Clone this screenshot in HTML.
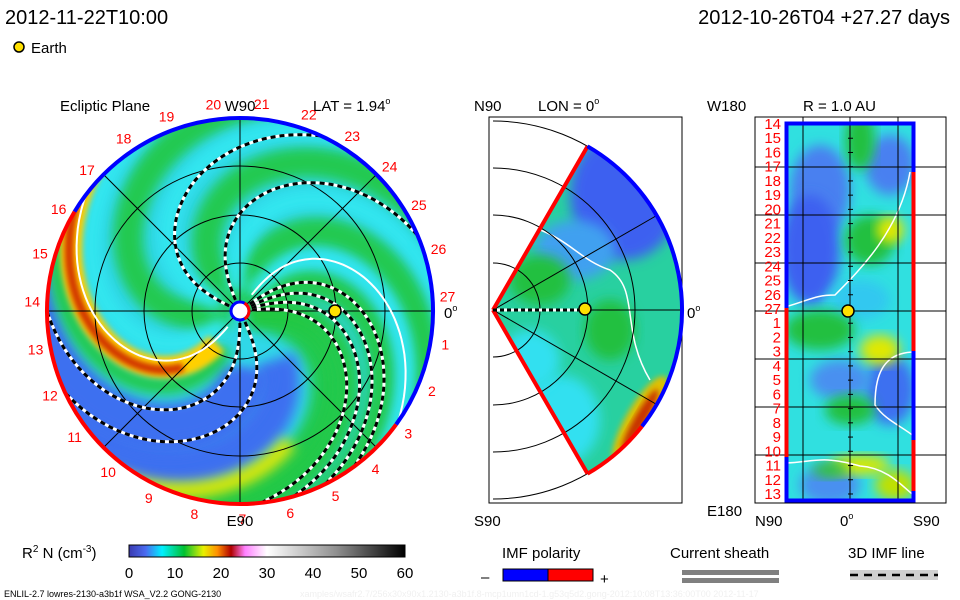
<!DOCTYPE html>
<html><head><meta charset="utf-8">
<style>
body{margin:0;background:#fff;width:960px;height:600px;overflow:hidden;font-family:"Liberation Sans",sans-serif}
svg{position:absolute;left:0;top:0}
</style></head>
<body>
<svg id="chart" width="960" height="600" viewBox="0 0 960 600">
<defs>
<filter id="blur" x="-20%" y="-20%" width="140%" height="140%"><feGaussianBlur stdDeviation="6"/></filter>
<filter id="blur2" x="-20%" y="-20%" width="140%" height="140%"><feGaussianBlur stdDeviation="3"/></filter>
<clipPath id="clipL"><circle cx="240" cy="311" r="193"/></clipPath>
<clipPath id="clipM"><path id="wedgePath" d=""/></clipPath>
<clipPath id="clipR"><rect x="785" y="122" width="130" height="379"/></clipPath>
<linearGradient id="cbar" x1="0" x2="1" y1="0" y2="0">
<stop offset="0" stop-color="#3a3ab0"/><stop offset="0.06" stop-color="#4a6af0"/><stop offset="0.12" stop-color="#00f0ff"/>
<stop offset="0.2" stop-color="#00c030"/><stop offset="0.27" stop-color="#e8f000"/><stop offset="0.32" stop-color="#ff9000"/>
<stop offset="0.37" stop-color="#b00000"/><stop offset="0.42" stop-color="#ff80ff"/><stop offset="0.5" stop-color="#ffffff"/>
<stop offset="0.75" stop-color="#909090"/><stop offset="1" stop-color="#000000"/>
</linearGradient>
</defs>
<g font-size="20" fill="#000">
<text x="5" y="24">2012-11-22T10:00</text>
<text x="950" y="24" text-anchor="end">2012-10-26T04 +27.27 days</text>
</g>
<g>
<circle cx="19" cy="47" r="5" fill="#ffe000" stroke="#000" stroke-width="1.5"/>
<text x="31" y="53" font-size="15">Earth</text>
</g>
<g id="left"></g>
<g id="mid"></g>
<g id="right"></g>
<g id="bottom"></g>
</svg>
<script>
// ---- data ----
const dayLabels = [1,2,3,4,5,6,7,8,9,10,11,12,13,14,15,16,17,18,19,20,21,22,23,24,25,26,27];
const rightLabels = [14,15,16,17,18,19,20,21,22,23,24,25,26,27,1,2,3,4,5,6,7,8,9,10,11,12,13];
const cbarTicks = [0,10,20,30,40,50,60];
const dashedSpirals = [-6,-16,-26,-36,90,65,-155,-113];
const whiteSpirals = [-55,127];
const greenBands = [170,-130,-75,-35,10,-5];
const blueBands = [45,70,80];
const cyanBands = [-100,-160,-55,140];
const earthLon = 0, earthR = 1.0, latDeg = 1.94;

const NS='http://www.w3.org/2000/svg';
function mk(parent,tag,attrs,name){const e=document.createElementNS(NS,tag);for(const k in attrs)e.setAttribute(k,attrs[k]);
 
 
 parent.appendChild(e);return e;}
const L=document.getElementById('left'),M=document.getElementById('mid'),Rg=document.getElementById('right'),B=document.getElementById('bottom');
const cx=240,cy=311,R=193,K2=1.57/(193*193);
function spiral(phi0,r0,r1){let d='';for(let r=r0;r<=r1;r+=3){const a=phi0*Math.PI/180+K2*r*r;d+=(d?'L':'M')+(cx+r*Math.cos(a)).toFixed(1)+' '+(cy+r*Math.sin(a)).toFixed(1);}return d;}
// left background
const lb=mk(L,'g',{'clip-path':'url(#clipL)'},'density-map');
mk(lb,'circle',{cx:cx,cy:cy,r:R,fill:'#30d8e8'},'background');
greenBands.forEach(p=>mk(lb,'path',{d:spiral(p,10,240),stroke:'#20c840',"stroke-width":30,fill:'none',filter:'url(#blur)',opacity:0.9},'green-band'));
cyanBands.forEach(p=>mk(lb,'path',{d:spiral(p,20,240),stroke:'#30e8f0',"stroke-width":16,fill:'none',filter:'url(#blur)'},'cyan-band'));
blueBands.forEach(p=>mk(lb,'path',{d:spiral(p,60,240),stroke:'#3d70f0',"stroke-width":40,fill:'none',filter:'url(#blur)'},'blue-band'));
mk(lb,'path',{d:spiral(108,40,240),stroke:'#20c840',"stroke-width":16,fill:'none',filter:'url(#blur)'},'green-band-left');
mk(lb,'path',{d:spiral(122,40,240),stroke:'#ffd000',"stroke-width":22,fill:'none',filter:'url(#blur2)'},'yellow-band');
mk(lb,'path',{d:spiral(120,80,240),stroke:'#d03000',"stroke-width":9,fill:'none',filter:'url(#blur2)'},'red-band');
mk(lb,'path',{d:spiral(22,140,240),stroke:'#e0e800',"stroke-width":16,fill:'none',filter:'url(#blur)'},'yellow-band-bottom');
// grid
const lg=mk(L,'g',{stroke:'#000','stroke-width':1,fill:'none'},'polar-grid');
[48,96,145].forEach(r=>mk(lg,'circle',{cx:cx,cy:cy,r:r},'grid-circle'));
for(let a=0;a<180;a+=45){const t=a*Math.PI/180;mk(lg,'line',{x1:cx-R*Math.cos(t),y1:cy-R*Math.sin(t),x2:cx+R*Math.cos(t),y2:cy+R*Math.sin(t)},'grid-line');}
const ls=mk(L,'g',{'clip-path':'url(#clipL)',fill:'none'},'imf-lines');
dashedSpirals.forEach(p=>{mk(ls,'path',{d:spiral(p,12,240),stroke:'#fff','stroke-width':3},'imf-line-bg');mk(ls,'path',{d:spiral(p,12,240),stroke:'#000','stroke-width':3,'stroke-dasharray':'5 4'},'imf-line');});
whiteSpirals.forEach(p=>mk(ls,'path',{d:spiral(p,20,240),stroke:'#fff','stroke-width':2},'current-sheet'));
// rim
function arc(a0,a1,r){const t0=a0*Math.PI/180,t1=a1*Math.PI/180;return `M${cx+r*Math.cos(t0)} ${cy+r*Math.sin(t0)} A${r} ${r} 0 ${(a1-a0)>180?1:0} 1 ${cx+r*Math.cos(t1)} ${cy+r*Math.sin(t1)}`;}
mk(L,'path',{d:arc(36,211,193),stroke:'#f00','stroke-width':4,fill:'none'},'polarity-rim-positive');
mk(L,'path',{d:arc(211,396,193),stroke:'#00f','stroke-width':4,fill:'none'},'polarity-rim-negative');
mk(L,'circle',{cx:cx,cy:cy,r:9,fill:'#fff',stroke:'#00f','stroke-width':3},'sun-inner-boundary');
mk(L,'path',{d:arc(-60,60,9),stroke:'#f00','stroke-width':3,fill:'none'},'inner-boundary-positive');
const ea=earthLon*Math.PI/180;
mk(L,'circle',{cx:cx+earthR*95*Math.cos(ea),cy:cy+earthR*95*Math.sin(ea),r:6,fill:'#ffe000',stroke:'#000','stroke-width':1.5},'earth-marker');
const lt=mk(L,'g',{fill:'#f00','font-size':14,'text-anchor':'middle'},'day-labels');
dayLabels.forEach(d=>{const a=(-4+d*13.333)*Math.PI/180;const t=mk(lt,'text',{x:cx+208*Math.cos(a),y:cy+208*Math.sin(a)+5},'day-label');t.textContent=d;});
const lbls=[['Ecliptic Plane',60,111,'start'],['W90',240,111,'middle'],['E90',240,526,'middle']];
lbls.forEach(l=>{const t=mk(L,'text',{x:l[1],y:l[2],'font-size':15,'text-anchor':l[3]},'axis-label');t.textContent=l[0];});
function deg(parent,x,y,txt,name){const t=mk(parent,'text',{x:x,y:y,'font-size':15},name);t.innerHTML=txt+'<tspan font-size="9" dy="-7">o</tspan>';}
deg(L,444,318,'0','zero-longitude-label');
deg(L,313,111,'LAT = '+latDeg,'latitude-label');
// middle wedge
const mx=493,my=310,MR=189;
function wp(d,r){const t=d*Math.PI/180;return [mx+r*Math.cos(t),my-r*Math.sin(t)];}
const p1=wp(60,MR),p2=wp(-60,MR);
document.getElementById('wedgePath').setAttribute('d',`M${mx} ${my} L${p1[0]} ${p1[1]} A${MR} ${MR} 0 0 1 ${p2[0]} ${p2[1]} Z`);
mk(M,'rect',{x:489,y:117,width:193,height:386,fill:'none',stroke:'#000'},'panel-frame');
const mg=mk(M,'g',{'clip-path':'url(#clipM)'},'meridional-map');
mk(mg,'rect',{x:489,y:117,width:200,height:390,fill:'#28d0a0'},'background');
mk(mg,'ellipse',{cx:625,cy:195,rx:55,ry:65,fill:'#3d60f0',filter:'url(#blur)'},'blue-region');
mk(mg,'ellipse',{cx:575,cy:250,rx:40,ry:30,fill:'#40a0f0',filter:'url(#blur)'},'blue-region-2');
mk(mg,'ellipse',{cx:540,cy:280,rx:30,ry:25,fill:'#20c040',filter:'url(#blur)'},'green-region');
mk(mg,'ellipse',{cx:610,cy:330,rx:25,ry:30,fill:'#20c040',filter:'url(#blur)'},'green-region-2');
mk(mg,'ellipse',{cx:560,cy:420,rx:40,ry:45,fill:'#30e0f0',filter:'url(#blur)'},'cyan-region');
mk(mg,'ellipse',{cx:530,cy:360,rx:30,ry:30,fill:'#30e0f0',filter:'url(#blur)'},'cyan-region-2');
mk(mg,'ellipse',{cx:640,cy:420,rx:14,ry:50,fill:'#e0c000',filter:'url(#blur2)',transform:'rotate(30 640 420)'},'yellow-region');
mk(mg,'ellipse',{cx:640,cy:420,rx:6,ry:35,fill:'#c83000',filter:'url(#blur2)',transform:'rotate(30 640 420)'},'red-region');
mk(mg,'path',{d:'M535 228 C570 240 580 260 610 270 C640 290 620 330 650 380',stroke:'#fff','stroke-width':1.5,fill:'none'},'current-sheet');
const mgr=mk(M,'g',{stroke:'#000',fill:'none'},'meridional-grid');
[47,95,142,189].forEach(r=>{const a=wp(90,r),b=wp(-90,r);mk(mgr,'path',{d:`M${a[0]} ${a[1]} A${r} ${r} 0 0 1 ${b[0]} ${b[1]}`},'grid-arc');});
[-60,-30,0,30,60].forEach(d=>{const e=wp(d,MR);mk(mgr,'line',{x1:mx,y1:my,x2:e[0],y2:e[1]},'grid-ray');});
{const a=wp(60,MR),b=wp(-60,MR);mk(M,'path',{d:`M${mx} ${my} L${a[0]} ${a[1]}`,stroke:'#f00','stroke-width':4},'edge-positive');
mk(M,'path',{d:`M${mx} ${my} L${b[0]} ${b[1]}`,stroke:'#f00','stroke-width':4},'edge-lower');
mk(M,'path',{d:`M${a[0]} ${a[1]} A${MR} ${MR} 0 0 1 ${wp(-38,MR)[0]} ${wp(-38,MR)[1]}`,stroke:'#00f','stroke-width':4,fill:'none'},'rim-negative');
mk(M,'path',{d:`M${wp(-38,MR)[0]} ${wp(-38,MR)[1]} A${MR} ${MR} 0 0 1 ${b[0]} ${b[1]}`,stroke:'#f00','stroke-width':4,fill:'none'},'rim-positive');}
mk(M,'line',{x1:mx,y1:my,x2:585,y2:my,stroke:'#fff','stroke-width':3},'imf-bg');
mk(M,'line',{x1:mx,y1:my,x2:585,y2:my,stroke:'#000','stroke-width':3,'stroke-dasharray':'4 3'},'imf-line');
mk(M,'circle',{cx:585,cy:309,r:6,fill:'#ffe000',stroke:'#000','stroke-width':1.5},'earth-marker');
[['N90',474,111],['S90',474,526]].forEach(l=>{const t=mk(M,'text',{x:l[1],y:l[2],'font-size':15},'axis-label');t.textContent=l[0];});
deg(M,538,111,'LON = 0','longitude-label');
deg(M,687,318,'0','zero-latitude-label');
// right panel
mk(Rg,'rect',{x:755,y:117,width:191,height:386,fill:'none',stroke:'#000'},'panel-frame');
const rg=mk(Rg,'g',{'clip-path':'url(#clipR)'},'surface-map');
mk(rg,'rect',{x:785,y:122,width:130,height:379,fill:'#30e0e0'},'background');
[[820,190,30,45,'#4a80f0'],[890,165,25,30,'#4a80f0'],[810,250,30,55,'#3d60f0'],[860,300,30,20,'#30c8f0'],[890,390,25,35,'#3d70f0'],[840,380,30,20,'#4a90f0'],[830,485,30,20,'#4a90f0'],
[860,140,15,30,'#20c040'],[870,240,25,25,'#20c040'],[890,230,14,14,'#e0e800'],[820,330,35,20,'#20c040'],[850,410,25,15,'#20c040'],[860,465,30,10,'#d8e800'],[895,485,20,15,'#c0e000'],[880,350,20,15,'#e0e800'],[830,470,18,8,'#30c040']]
.forEach(e=>mk(rg,'ellipse',{cx:e[0],cy:e[1],rx:e[2],ry:e[3],fill:e[4],filter:'url(#blur)'},'map-blob'));
mk(rg,'path',{d:'M785 307 C810 300 815 295 835 295 C860 270 900 230 910 172',stroke:'#fff','stroke-width':1.5,fill:'none'},'current-sheet');
mk(rg,'path',{d:'M915 352 C880 352 875 380 875 405 C885 420 900 425 915 437',stroke:'#fff','stroke-width':1.5,fill:'none'},'current-sheet-2');
mk(rg,'path',{d:'M785 463 C815 462 820 455 860 466 C890 468 905 490 915 496',stroke:'#fff','stroke-width':1.5,fill:'none'},'current-sheet-3');
const rgr=mk(Rg,'g',{stroke:'#000'},'right-grid');
[167,215,263,311,359,407,455].forEach(y=>mk(rgr,'line',{x1:755,y1:y,x2:946,y2:y},'grid-hline'));
[803,850,898].forEach(x=>mk(rgr,'line',{x1:x,y1:117,x2:x,y2:503},'grid-vline'));
rightLabels.forEach((d,i)=>{const y=124+i*14.23;mk(rgr,'line',{x1:848,y1:y,x2:853,y2:y},'tick');});
mk(Rg,'rect',{x:786.5,y:123.5,width:127,height:377,fill:'none',stroke:'#00f','stroke-width':4},'polarity-frame');
mk(Rg,'line',{x1:786.5,y1:308,x2:786.5,y2:457,stroke:'#f00','stroke-width':4},'left-positive');
mk(Rg,'line',{x1:913.5,y1:172,x2:913.5,y2:351,stroke:'#f00','stroke-width':4},'right-positive');
mk(Rg,'line',{x1:913.5,y1:440,x2:913.5,y2:491,stroke:'#f00','stroke-width':4},'right-positive-2');
mk(Rg,'circle',{cx:848,cy:311,r:6,fill:'#ffe000',stroke:'#000','stroke-width':1.5},'earth-marker');
const rl=mk(Rg,'g',{fill:'#f00','font-size':15,'text-anchor':'end'},'day-labels');
rightLabels.forEach((d,i)=>{const t=mk(rl,'text',{x:781,y:129+i*14.23},'day-label');t.textContent=d;});
[['W180',707,111],['R = 1.0 AU',803,111],['E180',707,516],['N90',755,526],['S90',913,526]].forEach(l=>{const t=mk(Rg,'text',{x:l[1],y:l[2],'font-size':15},'axis-label');t.textContent=l[0];});
deg(Rg,840,526,'0','zero-label');
// colorbar
const t0=mk(B,'text',{x:22,y:558,'font-size':15},'colorbar-title');t0.innerHTML='R<tspan font-size="10" dy="-6">2</tspan><tspan dy="6"> N (cm</tspan><tspan font-size="10" dy="-6">-3</tspan><tspan dy="6">)</tspan>';
mk(B,'rect',{x:129,y:545,width:276,height:12,fill:'url(#cbar)',stroke:'#000'},'colorbar');
cbarTicks.forEach(v=>{const x=129+v/60*276;const t=mk(B,'text',{x:x,y:578,'font-size':15,'text-anchor':'middle'},'colorbar-tick');t.textContent=v;});
[['IMF polarity',502,558],['Current sheath',670,558],['3D IMF line',848,558]].forEach(l=>{const t=mk(B,'text',{x:l[1],y:l[2],'font-size':15},'legend-title');t.textContent=l[0];});
mk(B,'rect',{x:503,y:569,width:45,height:12,fill:'#00f',stroke:'#000'},'polarity-negative');
mk(B,'rect',{x:548,y:569,width:45,height:12,fill:'#f00',stroke:'#000'},'polarity-positive');
{const a=mk(B,'text',{x:481,y:582,'font-size':15},'minus-sign');a.textContent='–';const b=mk(B,'text',{x:600,y:584,'font-size':15},'plus-sign');b.textContent='+';}
mk(B,'rect',{x:682,y:570,width:97,height:5,fill:'#808080'},'sheath-line-1');
mk(B,'rect',{x:682,y:578,width:97,height:5,fill:'#808080'},'sheath-line-2');
mk(B,'rect',{x:850,y:570,width:88,height:10,fill:'#d0d0d0'},'imf-line-bg');
mk(B,'line',{x1:850,y1:575,x2:938,y2:575,stroke:'#000','stroke-width':2.5,'stroke-dasharray':'8 6'},'imf-line-sample');
const f1=mk(B,'text',{x:4,y:597,'font-size':9},'footer-run-id');f1.textContent='ENLIL-2.7 lowres-2130-a3b1f WSA_V2.2 GONG-2130';
const f2=mk(B,'text',{x:300,y:597,'font-size':9,fill:'#f0f0f0'},'footer-path');f2.textContent='xamples/wsafr2.7/256x30x90x1.2130-a3b1f.8-mcp1umn1cd-1.g53q5d2.gong-2012:10:08T13:36:00T00    2012-11-17';
</script>
</body></html>
